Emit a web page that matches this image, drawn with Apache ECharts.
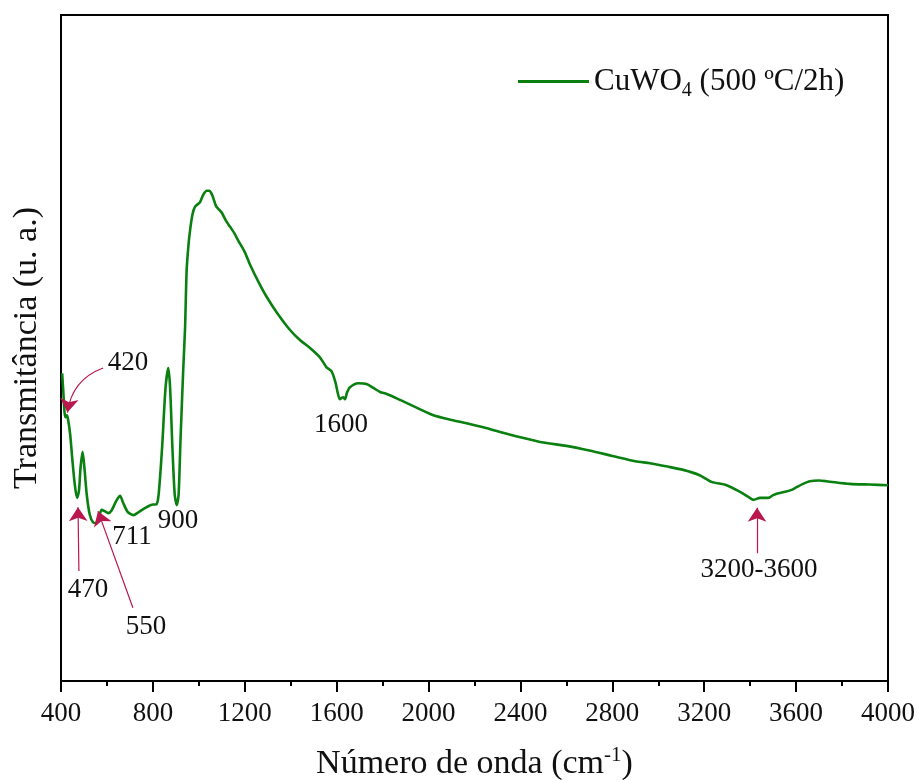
<!DOCTYPE html>
<html>
<head>
<meta charset="utf-8">
<script src="https://cdn.jsdelivr.net/npm/echarts@6/dist/echarts.min.js"></script>
<style>html,body{margin:0;padding:0;background:#fff;}#c{width:918px;height:780px;}</style>
</head>
<body>
<div id="c"></div>
<script>
// Wavenumber (cm-1) and transmittance (arbitrary units)
var wavenumber = [405,410,415,420,425,430,440,450,460,470,478,485,494,502,512,525,540,555,565,577,590,606,620,640,657,670,690,715,740,773,800,815,825,840,855,867,875,885,895,904,912,920,932,940,947,955,962,972,983,1005,1019,1035,1045,1055,1063,1075,1085,1100,1120,1136,1155,1172,1200,1223,1260,1295,1340,1397,1440,1484,1527,1556,1578,1595,1605,1614,1622,1629,1636,1645,1658,1694,1730,1760,1789,1818,1876,1950,2021,2100,2166,2250,2311,2400,2500,2600,2700,2800,2900,2964,3040,3109,3180,3232,3297,3356,3390,3414,3443,3479,3500,3523,3552,3580,3602,3630,3660,3700,3733,3834,3920,4000];
var transmittance = [46.2,43.5,40.5,39.6,39.9,39.4,37.0,33.0,29.5,27.5,28.5,32.0,34.4,32.0,28.0,25.0,23.8,23.7,24.6,25.7,25.5,25.2,25.6,27.0,27.8,26.8,25.4,24.9,25.4,26.1,26.5,26.5,28.0,35.0,44.0,47.0,44.0,35.0,28.0,26.4,28.0,36.0,46.7,53.0,61.7,65.5,67.7,70.0,71.2,71.9,73.0,73.6,73.6,73.2,72.5,71.3,70.9,70.3,69.0,68.2,67.2,66.1,64.4,62.5,59.9,57.7,55.3,52.7,51.2,50.0,48.6,47.1,46.5,44.8,43.2,42.3,42.5,42.6,42.3,43.3,44.1,44.7,44.6,44.0,43.4,43.1,42.2,41.0,39.9,39.2,38.7,38.0,37.4,36.6,35.8,35.3,34.6,33.8,33.0,32.7,32.2,31.7,30.9,29.9,29.4,28.4,27.7,27.2,27.5,27.5,27.9,28.2,28.4,28.7,29.1,29.6,30.0,30.1,30.0,29.6,29.5,29.4];

// Peak annotations: text, position (wavenumber, value)
var annotTexts = ['420','470','550','711','900','1600','3200-3600'];
var annotX = [692, 517, 770, 709, 909, 1619, 3438];
var annotY = [47.7, 13.7, 8.1, 21.6, 24.0, 38.4, 16.7];

// Arrows: start (x,y) -> end (x,y)
var arrowStartX = [583, 478, 713, 3430];
var arrowStartY = [47.0, 16.5, 11.0, 19.2];
var arrowEndX = [428, 474, 561, 3430];
var arrowEndY = [40.3, 26.1, 25.5, 26.0];
var arrowCurve = [-0.3, 0, 0, 0];

var xTicks = [400,800,1200,1600,2000,2400,2800,3200,3600,4000];

var seriesData = wavenumber.map(function(w,i){return [w, transmittance[i]];});
var FONT = '"Liberation Serif", "Times New Roman", serif';
var arrowColor = '#b8184e';

var markPts = annotTexts.map(function(t,i){
  return {coord:[annotX[i], annotY[i]], value:t};
});
var arrowData = arrowStartX.map(function(x,i){
  return {coords:[[x, arrowStartY[i]],[arrowEndX[i], arrowEndY[i]]], lineStyle:{curveness:arrowCurve[i]}};
});

var chart = echarts.init(document.getElementById('c'));
chart.setOption({
  animation:false,
  backgroundColor:'#fff',
  grid:{left:61, right:30, top:15, bottom:99, show:true, borderColor:'#000', borderWidth:2,
    containLabel:false, outerBoundsMode:'none'},
  legend:{
    data:['CuWO4'],
    left:513, top:61,
    icon:'rect', itemWidth:71, itemHeight:3, itemGap:8,
    formatter:function(){return 'CuWO{sub|4} (500 ºC/2h)';},
    textStyle:{fontFamily:FONT, fontSize:31, color:'#111',
      rich:{sub:{fontFamily:FONT, fontSize:20, color:'#111', padding:[18,0,0,0]}}}
  },
  xAxis:{
    type:'value', min:400, max:4000, interval:400,
    name:'Número de onda (cm{sup|-1})',
    nameLocation:'middle', nameGap:64,
    nameTextStyle:{fontFamily:FONT, fontSize:34, color:'#111',
      rich:{sup:{fontFamily:FONT, fontSize:21, color:'#111', padding:[0,0,18,0]}}},
    axisLine:{show:true, lineStyle:{color:'#000', width:2}},
    axisTick:{show:true, inside:false, length:11, lineStyle:{color:'#000', width:2}},
    minorTick:{show:true, splitNumber:2, length:5, lineStyle:{color:'#000', width:2}},
    splitLine:{show:false},
    axisLabel:{fontFamily:FONT, fontSize:27, color:'#111', margin:19,
      formatter:function(v){return xTicks.indexOf(v)>=0 ? String(v) : '';}}
  },
  yAxis:{
    type:'value', min:0, max:100,
    name:'Transmitância (u. a.)',
    nameLocation:'middle', nameGap:17,
    nameTextStyle:{fontFamily:FONT, fontSize:34, color:'#111'},
    axisLine:{show:true, lineStyle:{color:'#000', width:2}},
    axisTick:{show:false},
    axisLabel:{show:false},
    splitLine:{show:false}
  },
  series:[{
    name:'CuWO4', type:'line', data:seriesData,
    showSymbol:false, symbol:'none', smooth:0.25,
    lineStyle:{color:'#0a8010', width:2.6},
    itemStyle:{color:'#0a8010'},
    z:3,
    markPoint:{
      symbol:'circle', symbolSize:0, silent:true,
      label:{show:true, position:'inside', fontFamily:FONT, fontSize:27, color:'#111',
        formatter:function(p){return p.value;}},
      data:markPts
    }
  },{
    name:'arrows', type:'lines', coordinateSystem:'cartesian2d',
    silent:true, z:4,
    symbol:['none','arrow'], symbolSize:[10,14],
    lineStyle:{color:arrowColor, width:1.2, opacity:1},
    data:arrowData
  }]
});
</script>
</body>
</html>
